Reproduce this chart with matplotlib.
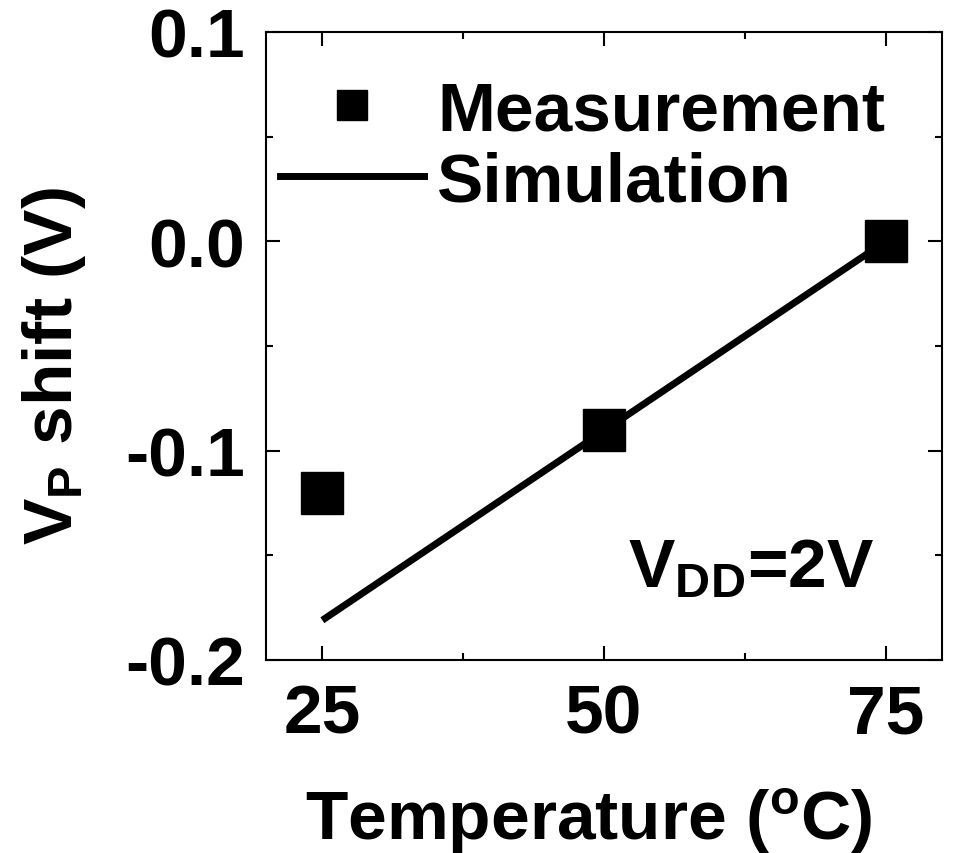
import matplotlib
matplotlib.use('Agg')
import matplotlib.pyplot as plt
from matplotlib.lines import Line2D
from matplotlib.ticker import MultipleLocator

# datos
temp_med = [25, 50, 75]
vp_med = [-0.12, -0.09, 0.0]
temp_sim = [25, 75]
vp_sim = [-0.181, 0.0]

plt.rcParams['font.family'] = ['Liberation Sans', 'DejaVu Sans']
plt.rcParams['font.weight'] = 'bold'
plt.rcParams['mathtext.fontset'] = 'custom'
plt.rcParams['mathtext.rm'] = 'Liberation Sans:bold'
plt.rcParams['mathtext.bf'] = 'Liberation Sans:bold'
plt.rcParams['mathtext.it'] = 'Liberation Sans:bold'

fs = 50

fig = plt.figure(figsize=(9.56, 8.54), dpi=100)
ax = fig.add_axes([266/956, 1-661/854, 676/956, 628/854])

ax.plot(temp_sim, vp_sim, color='black', lw=5, solid_capstyle='butt')
ax.plot(temp_med, vp_med, 's', color='black', ms=30, ls='none')

ax.set_xlim(20, 80)
ax.set_ylim(-0.2, 0.1)
ax.xaxis.set_minor_locator(MultipleLocator(12.5))
ax.yaxis.set_minor_locator(MultipleLocator(0.05))
ax.set_xticks([25, 50, 75])
ax.set_yticks([-0.2, -0.1, 0.0, 0.1])
ax.set_yticklabels(['-0.2', '-0.1', '0.0', '0.1'])

for s in ax.spines.values():
    s.set_linewidth(1.5)
ax.tick_params(which='both', direction='in', top=True, right=True, width=1.5)
ax.tick_params(which='major', length=10)
ax.tick_params(which='minor', length=5)
ax.tick_params(axis='x', which='major', labelsize=fs, pad=16)
ax.tick_params(axis='y', which='major', labelsize=fs, pad=15)

ax.set_xlabel(r'Temperature ($\mathrm{^{o}}$C)', fontsize=fs, fontweight='bold')
ax.set_ylabel(r'$\mathrm{V_P}$ shift (V)', fontsize=fs, fontweight='bold')
ax.xaxis.set_label_coords(0.478, -0.2)
ax.yaxis.set_label_coords(-0.263, 0.47)

ax.text(0.535, 0.117, r'$\mathrm{V_{DD}}$=2V', transform=ax.transAxes,
        fontsize=fs, fontweight='bold', ha='left', va='baseline')

handles = [Line2D([], [], marker='s', color='black', ls='none', ms=30),
           Line2D([], [], color='black', lw=5)]
ax.legend(handles, ['Measurement', 'Simulation'], loc='upper left',
          bbox_to_anchor=(0.0207, 0.925), frameon=False, borderpad=0,
          borderaxespad=0, handlelength=2.07, handletextpad=0.19,
          labelspacing=0.1, markerscale=0.74,
          prop={'size': fs, 'weight': 'bold'})

plt.savefig('out.png', dpi=100)
